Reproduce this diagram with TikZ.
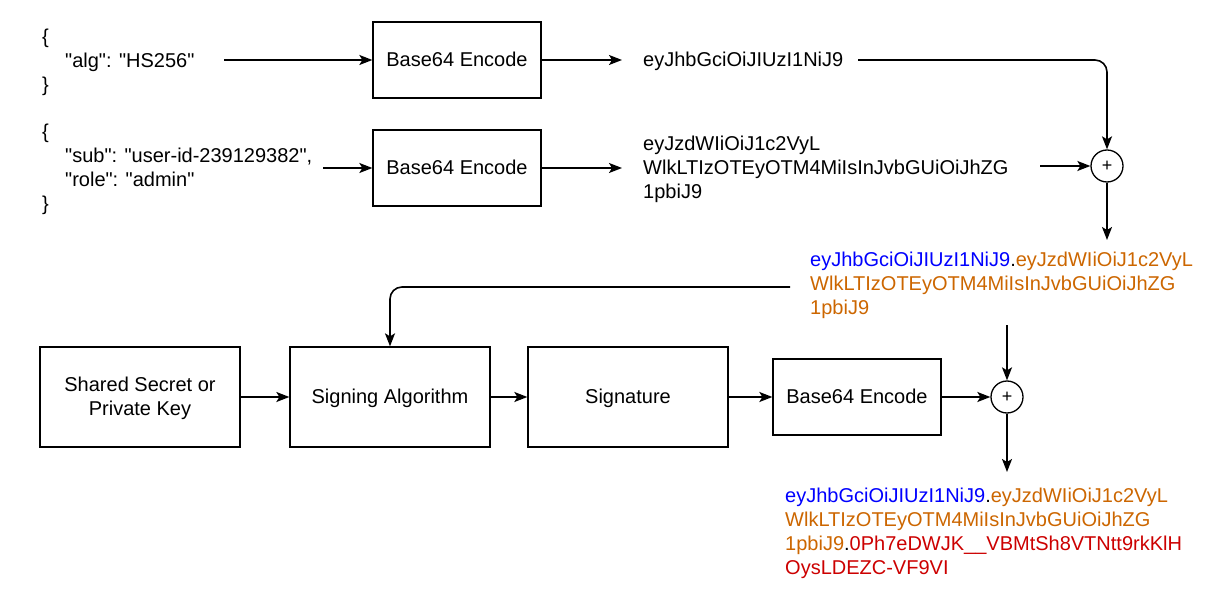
\documentclass[tikz,border=0pt]{standalone}
\usepackage{fontspec}
\setmainfont{Liberation Sans}[Ligatures=TeXOff]
\usetikzlibrary{arrows.meta}
\definecolor{jwtblue}{RGB}{0,0,255}
\definecolor{jwtorange}{RGB}{204,102,0}
\definecolor{jwtred}{RGB}{204,0,0}
\begin{document}
\begin{tikzpicture}[x=1pt,y=-1pt,
 every node/.style={font=\fontsize{20}{24}\selectfont},
 box/.style={draw, line width=1.3pt, minimum width=168pt, minimum height=76pt, inner sep=0, text depth=1pt},
 bigbox/.style={box, minimum width=200pt, minimum height=100pt, align=center},
 plus/.style={draw, circle, line width=1.3pt, minimum size=32pt, inner sep=0, font=\fontsize{18}{18}\selectfont},
 txt/.style={anchor=base west, inner sep=0, align=left},
 conn/.style={line width=1.6pt, -{Stealth[length=13pt,width=10pt,inset=3pt]}},
]
\useasboundingbox (0,0) rectangle (1217,601);

% JSON inputs (base = baseline of last line)
\node[txt] (j1) at (42,92) {\{\\\hspace*{23pt}"alg": "HS256"\\\}};
\node[txt] (j2) at (42,211) {\{\\\hspace*{23pt}"sub": "user-id-239129382",\\\hspace*{23pt}"role": "admin"\\\}};

% encode boxes
\node[box] (b1) at (457,60) {Base64 Encode};
\node[box] (b2) at (457,168) {Base64 Encode};

% encoded texts
\node[txt] (t1) at (643,67) {eyJhbGciOiJIUzI1NiJ9};
\node[txt] (t2) at (643,199) {eyJzdWIiOiJ1c2VyL\\WlkLTIzOTEyOTM4MiIsInJvbGUiOiJhZG\\1pbiJ9};

% first plus
\node[plus] (p1) at (1107,166) {+};

% concatenated
\node[txt] (cat) at (810,315) {\color{jwtblue}eyJhbGciOiJIUzI1NiJ9\color{black}.\color{jwtorange}eyJzdWIiOiJ1c2VyL\\\color{jwtorange}WlkLTIzOTEyOTM4MiIsInJvbGUiOiJhZG\\\color{jwtorange}1pbiJ9};

% bottom row
\node[bigbox] (ss) at (140,397) {Shared Secret or\\Private Key};
\node[bigbox] (sa) at (390,397) {Signing Algorithm};
\node[bigbox] (sig) at (628,397) {Signature};
\node[box] (b3) at (857,397) {Base64 Encode};
\node[plus] (p2) at (1007,397) {+};

% final token
\node[txt] (tok) at (785,574) {\color{jwtblue}eyJhbGciOiJIUzI1NiJ9\color{black}.\color{jwtorange}eyJzdWIiOiJ1c2VyL\\\color{jwtorange}WlkLTIzOTEyOTM4MiIsInJvbGUiOiJhZG\\\color{jwtorange}1pbiJ9\color{black}.\color{jwtred}0Ph7eDWJK\_\_VBMtSh8VTNtt9rkKlH\\\color{jwtred}OysLDEZC-VF9VI};

% connector coordinates
\coordinate (j1e) at (224,60);
\coordinate (j2e) at (323,168);
\coordinate (t1w) at (622,60);
\coordinate (t2w) at (622,168);
\coordinate (t1e) at (858,60);
\coordinate (t2e) at (1040,166);
\coordinate (p1o) at (1107,240);
\coordinate (cate) at (790,287);
\coordinate (cati) at (1007,325);
\coordinate (p2o) at (1007,472);

% connectors
\draw[conn] (j1e) -- (b1.west);
\draw[conn] (j2e) -- (b2.west);
\draw[conn] (b1.east) -- (t1w);
\draw[conn] (b2.east) -- (t2w);
\draw[conn, rounded corners=12pt] (t1e) -| (p1.north);
\draw[conn] (t2e) -- (p1.west);
\draw[conn] (p1.south) -- (p1o);
\draw[conn, rounded corners=12pt] (cate) -| (sa.north);
\draw[conn] (ss.east) -- (sa.west);
\draw[conn] (sa.east) -- (sig.west);
\draw[conn] (sig.east) -- (b3.west);
\draw[conn] (b3.east) -- (p2.west);
\draw[conn] (cati) -- (p2.north);
\draw[conn] (p2.south) -- (p2o);
\end{tikzpicture}
\end{document}
